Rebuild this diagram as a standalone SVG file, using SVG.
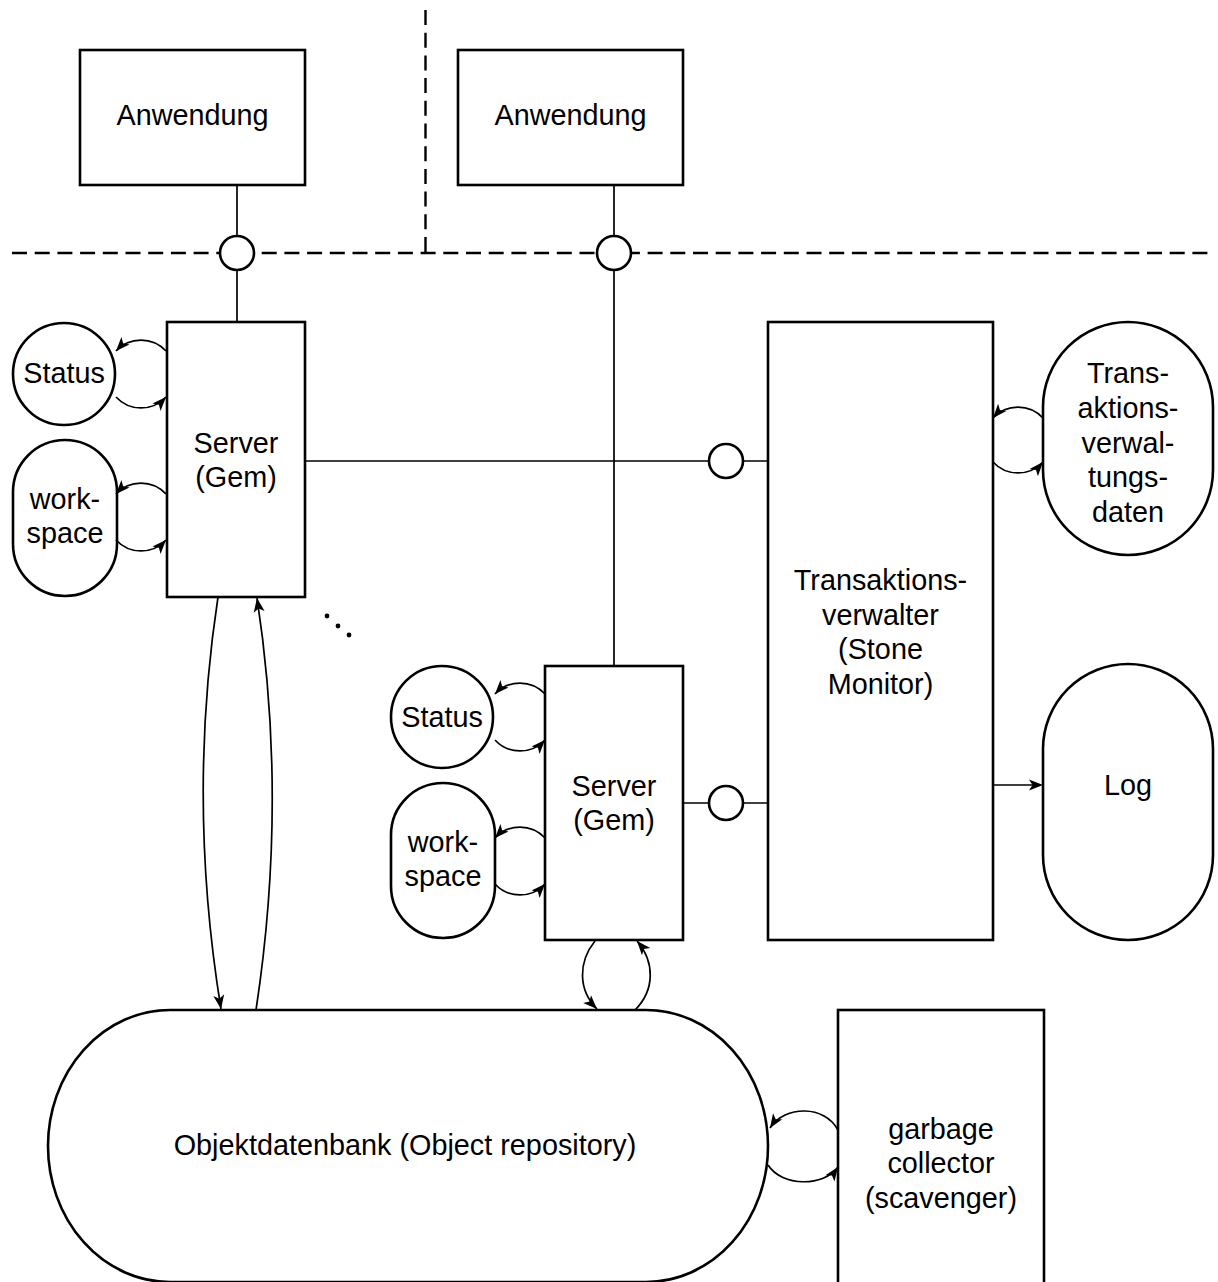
<svg xmlns="http://www.w3.org/2000/svg" xmlns:xlink="http://www.w3.org/1999/xlink" width="1218" height="1282" viewBox="0 0 1218 1282">
  <style>
    .shape { fill: #ffffff; stroke: #000000; stroke-width: 2.6; }
    .sep { fill: none; stroke: #000000; stroke-width: 2.4; stroke-dasharray: 15 7.7; }
    .wire { fill: none; stroke: #000000; stroke-width: 1.7; }
    .arrow { fill: none; stroke: #000000; stroke-width: 1.7; }
    .iface { fill: #ffffff; stroke: #000000; stroke-width: 2.6; }
    .head { fill: #000000; stroke: none; }
    text { font-family: "Liberation Sans", Arial, sans-serif; font-size: 28.8px; fill: #000000; text-anchor: middle; }
  </style>
  <defs>
    <!-- arrowhead with its tip at the origin, pointing along +x -->
    <path id="ah" d="M0,0 L-14,-5.5 L-10.5,0 L-14,5.5 Z"/>
  </defs>
  <rect width="1218" height="1282" fill="#ffffff"/>

  <!-- layer separators -->
  <g id="separators">
    <line class="sep" x1="12" y1="253" x2="1210" y2="253"/>
    <line class="sep" x1="425.5" y1="10" x2="425.5" y2="253"/>
  </g>

  <!-- nodes -->
  <g id="app-1">
    <rect class="shape" x="80" y="50" width="225" height="135"/>
    <text x="192.5" y="125">Anwendung</text>
  </g>
  <g id="app-2">
    <rect class="shape" x="458" y="50" width="225" height="135"/>
    <text x="570.5" y="125">Anwendung</text>
  </g>
  <g id="status-1">
    <circle class="shape" cx="64" cy="374" r="51"/>
    <text x="64" y="383">Status</text>
  </g>
  <g id="workspace-1">
    <rect class="shape" x="13" y="440" width="104" height="156" rx="52" ry="52"/>
    <text x="65" y="509">work-</text>
    <text x="65" y="543">space</text>
  </g>
  <g id="server-1">
    <rect class="shape" x="167" y="322" width="138" height="275"/>
    <text x="236" y="453">Server</text>
    <text x="236" y="487">(Gem)</text>
  </g>
  <g id="status-2">
    <circle class="shape" cx="442" cy="717" r="51"/>
    <text x="442" y="727">Status</text>
  </g>
  <g id="workspace-2">
    <rect class="shape" x="391" y="783" width="104" height="155" rx="52" ry="52"/>
    <text x="443" y="852">work-</text>
    <text x="443" y="886">space</text>
  </g>
  <g id="server-2">
    <rect class="shape" x="545" y="666" width="138" height="274"/>
    <text x="614" y="796">Server</text>
    <text x="614" y="830">(Gem)</text>
  </g>
  <g id="transaction-manager">
    <rect class="shape" x="768" y="322" width="225" height="618"/>
    <text x="880.5" y="590">Transaktions-</text>
    <text x="880.5" y="624.5">verwalter</text>
    <text x="880.5" y="659">(Stone</text>
    <text x="880.5" y="693.5">Monitor)</text>
  </g>
  <g id="transaction-data">
    <rect class="shape" x="1043" y="322" width="170" height="233" rx="85" ry="85"/>
    <text x="1128" y="383">Trans-</text>
    <text x="1128" y="417.75">aktions-</text>
    <text x="1128" y="452.5">verwal-</text>
    <text x="1128" y="487.25">tungs-</text>
    <text x="1128" y="522">daten</text>
  </g>
  <g id="log">
    <rect class="shape" x="1043" y="664" width="170" height="276" rx="85" ry="85"/>
    <text x="1128" y="795">Log</text>
  </g>
  <g id="object-repository">
    <rect class="shape" x="48" y="1010" width="720" height="272" rx="122" ry="136"/>
    <text x="405" y="1155">Objektdatenbank (Object repository)</text>
  </g>
  <g id="garbage-collector">
    <rect class="shape" x="838" y="1010" width="206" height="290"/>
    <text x="941" y="1139">garbage</text>
    <text x="941" y="1173">collector</text>
    <text x="941" y="1208">(scavenger)</text>
  </g>
  <g id="more-servers">
    <circle cx="327" cy="616" r="2.4" fill="#000000"/>
    <circle cx="338" cy="626" r="2.4" fill="#000000"/>
    <circle cx="349" cy="635" r="2.4" fill="#000000"/>
  </g>

  <!-- connectors -->
  <g id="connectors">
    <line class="wire" x1="237" y1="185" x2="237" y2="322"/>
    <line class="wire" x1="614" y1="185" x2="614" y2="666"/>
    <line class="wire" x1="305" y1="461" x2="768" y2="461"/>
    <line class="wire" x1="683" y1="803" x2="768" y2="803"/>
    <path class="arrow" d="M993,785 L1036,785"/>
    <use class="head" xlink:href="#ah" href="#ah" transform="translate(1043,785)"/>

    <!-- server 1 with its status and workspace -->
    <path class="arrow" d="M166,351 A34,34 0 0 0 116,351"/>
    <use class="head" xlink:href="#ah" href="#ah" transform="translate(116,351) rotate(132.6)"/>
    <path class="arrow" d="M116,397 A34,34 0 0 0 166,397"/>
    <use class="head" xlink:href="#ah" href="#ah" transform="translate(166,397) rotate(-47.4)"/>
    <path class="arrow" d="M166,494 A34,34 0 0 0 116,494"/>
    <use class="head" xlink:href="#ah" href="#ah" transform="translate(116,494) rotate(132.6)"/>
    <path class="arrow" d="M116,540 A34,34 0 0 0 166,540"/>
    <use class="head" xlink:href="#ah" href="#ah" transform="translate(166,540) rotate(-47.4)"/>

    <!-- server 2 with its status and workspace -->
    <path class="arrow" d="M545,694 A34,34 0 0 0 495,694"/>
    <use class="head" xlink:href="#ah" href="#ah" transform="translate(495,694) rotate(132.6)"/>
    <path class="arrow" d="M495,740 A34,34 0 0 0 545,740"/>
    <use class="head" xlink:href="#ah" href="#ah" transform="translate(545,740) rotate(-47.4)"/>
    <path class="arrow" d="M545,838 A34,34 0 0 0 495,838"/>
    <use class="head" xlink:href="#ah" href="#ah" transform="translate(495,838) rotate(132.6)"/>
    <path class="arrow" d="M495,884 A34,34 0 0 0 545,884"/>
    <use class="head" xlink:href="#ah" href="#ah" transform="translate(545,884) rotate(-47.4)"/>

    <!-- transaction manager and its data -->
    <path class="arrow" d="M1043,418 A34,34 0 0 0 993,418"/>
    <use class="head" xlink:href="#ah" href="#ah" transform="translate(993,418) rotate(131.3)"/>
    <path class="arrow" d="M993,462 A34,34 0 0 0 1043,462"/>
    <use class="head" xlink:href="#ah" href="#ah" transform="translate(1043,462) rotate(-48.7)"/>

    <!-- servers and object repository -->
    <path class="arrow" d="M218,597 Q187,800 221,1009"/>
    <use class="head" xlink:href="#ah" href="#ah" transform="translate(221,1009) rotate(80.8)"/>
    <path class="arrow" d="M256,1010 Q288,800 257,598"/>
    <use class="head" xlink:href="#ah" href="#ah" transform="translate(257,598) rotate(-98.7)"/>
    <path class="arrow" d="M595,941 C578,962 578,990 597,1009"/>
    <use class="head" xlink:href="#ah" href="#ah" transform="translate(597,1009) rotate(45)"/>
    <path class="arrow" d="M635,1010 C655,990 655,962 637,941"/>
    <use class="head" xlink:href="#ah" href="#ah" transform="translate(637,941) rotate(-130.6)"/>

    <!-- garbage collector and object repository -->
    <path class="arrow" d="M838,1130 C825,1105 785,1105 770,1128"/>
    <use class="head" xlink:href="#ah" href="#ah" transform="translate(770,1128) rotate(123.1)"/>
    <path class="arrow" d="M768,1165 C782,1187 824,1187 838,1167"/>
    <use class="head" xlink:href="#ah" href="#ah" transform="translate(838,1167) rotate(-55)"/>
  </g>

  <!-- interfaces -->
  <g id="iface-app-1"><circle class="iface" cx="237" cy="253" r="17"/></g>
  <g id="iface-app-2"><circle class="iface" cx="614" cy="253" r="17"/></g>
  <g id="iface-tm-1"><circle class="iface" cx="726" cy="461" r="17"/></g>
  <g id="iface-tm-2"><circle class="iface" cx="726" cy="803" r="17"/></g>
</svg>
